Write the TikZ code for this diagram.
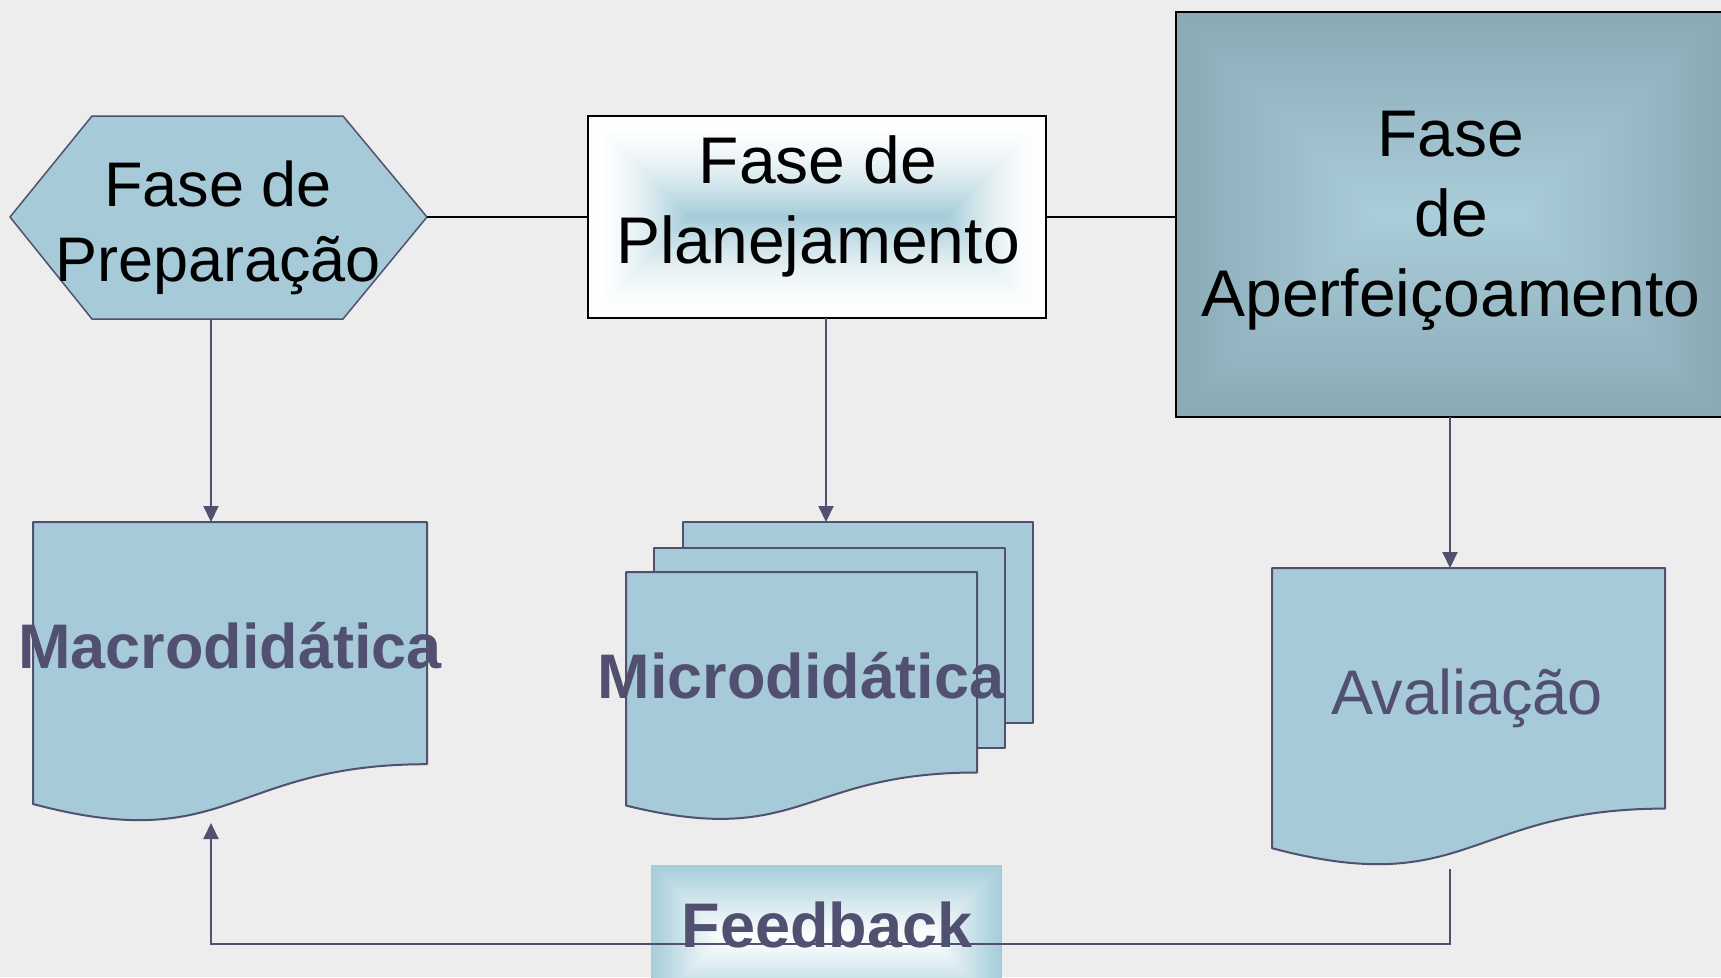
\documentclass[tikz,border=0pt]{standalone}
\usepackage{fontspec}
\setmainfont{Liberation Sans}
\usetikzlibrary{arrows.meta}
\definecolor{bg}{RGB}{237,237,237}
\definecolor{docfill}{RGB}{166,202,216}
\definecolor{edge}{RGB}{82,80,112}
\definecolor{aperOut}{RGB}{138,170,182}
\definecolor{aperIn}{RGB}{170,205,218}
\definecolor{planIn}{RGB}{165,204,217}
\definecolor{fbOut}{RGB}{166,206,218}
\newcommand{\rectgrad}[8]{%
  \pgfmathsetmacro{\ghalf}{min(#3-#1,#4-#2)/2}%
  \foreach \gi in {0,...,#7}{%
    \pgfmathsetmacro{\gd}{\gi*\ghalf/(#7+1)}%
    \pgfmathtruncatemacro{\gp}{100*(\gi/#7)^#8}%
    \fill[#6!\gp!#5] ({#1+\gd},{#2+\gd}) rectangle ({#3-\gd},{#4-\gd});
  }}
\begin{document}
\begin{tikzpicture}[x=1pt,y=-1pt,
  conn/.style={draw=edge,line width=2pt},
  arr/.style={conn,-{Triangle[width=15pt,length=16pt]}},
  link/.style={draw=black,line width=2pt},
  docshape/.style={fill=docfill,draw=edge,line width=2pt,line join=round},
  boxline/.style={draw=black,line width=2.5pt,inner sep=0pt},
  phasetext/.style={align=center,text=black,inner sep=0pt},
  doctext/.style={text=edge,anchor=base,inner sep=0pt,font=\fontsize{63}{75}\selectfont}]
\useasboundingbox (0,0) rectangle (1721,977);
\clip (0,0) rectangle (1721,977);
\fill[bg] (0,0) rectangle (1721,977);

% ---- Fase de Preparacao (hexagon)
\coordinate (prepE) at (427,217);
\coordinate (prepS) at (211,319);
\draw[docshape,line width=1.5pt] (10,217) -- (92,116) -- (343,116) -- (prepE) -- (343,319) -- (92,319) -- cycle;
\node[phasetext,font=\fontsize{63}{75}\selectfont] (prepT) at (218,228) {Fase de~\\Preparação};

% ---- Fase de Planejamento
\rectgrad{588}{116}{1046}{318}{white}{planIn}{40}{1.8}
\node[boxline,minimum width=458pt,minimum height=202pt] (plan) at (817,217) {};
\node[phasetext,font=\fontsize{66}{80}\selectfont] (planT) at (818,206) {Fase de\\Planejamento};
\coordinate (planS) at (826,318);

% ---- Fase de Aperfeicoamento
\rectgrad{1176}{12}{1722}{417}{aperOut}{aperIn}{40}{1}
\node[boxline,minimum width=546pt,minimum height=405pt] (aper) at (1449,214.5) {};
\node[phasetext,font=\fontsize{66}{80}\selectfont] (aperT) at (1451,221) {Fase\\de\\Aperfeiçoamento};
\coordinate (aperS) at (1450,417);

% ---- horizontal links
\draw[link] (prepE) -- (plan.west);
\draw[link] (plan.east) -- (plan.east -| aper.west);

% ---- Macrodidatica (document)
\draw[docshape] (33,522) -- (427,522) -- (427,764.2) .. controls (230,764.2) and (230,856.5) .. (33,804) -- cycle;
\coordinate (macroN) at (211,522);
\coordinate (macroS) at (211,823);
\node[doctext,font=\fontsize{63}{75}\selectfont\bfseries] (macroT) at (230,668) {Macrodidática};

% ---- Microdidatica (multi-document)
\draw[docshape] (683,522) rectangle (1033,723);
\draw[docshape] (654,548) rectangle (1005,748);
\draw[docshape] (626,572) -- (977,572) -- (977,772.5) .. controls (801.5,772.5) and (801.5,849) .. (626,805.5) -- cycle;
\coordinate (microN) at (826,522);
\node[doctext,font=\fontsize{63}{75}\selectfont\bfseries] (microT) at (801,698) {Microdidática};

% ---- Avaliacao (document)
\draw[docshape] (1272,568) -- (1665,568) -- (1665,808.6) .. controls (1468.5,808.6) and (1468.5,900.25) .. (1272,848.2) -- cycle;
\coordinate (avalN) at (1450,568);
\coordinate (avalS) at (1450,869);
\node[doctext] (avalT) at (1467,714) {Avaliação};

% ---- vertical arrows
\draw[arr] (prepS) -- (macroN);
\draw[arr] (planS) -- (microN);
\draw[arr] (aperS) -- (avalN);

% ---- Feedback
\rectgrad{651}{865}{1002}{1010}{fbOut}{white}{30}{1}
\coordinate (fbLeft) at (211,944);
\draw[arr] (avalS) |- (fbLeft) -- (macroS);
\node[doctext,font=\fontsize{63}{75}\selectfont\bfseries] (fb) at (827,947) {Feedback};
\end{tikzpicture}
\end{document}
